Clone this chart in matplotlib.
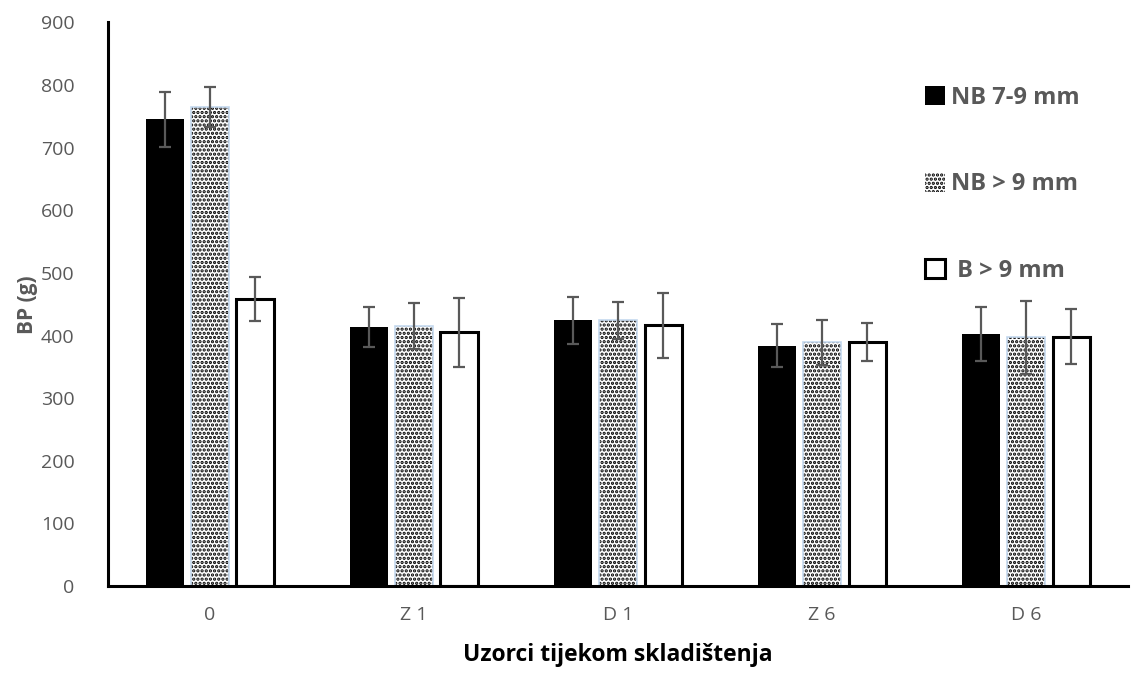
import matplotlib
matplotlib.use("Agg")
import matplotlib.pyplot as plt
import numpy as np

plt.rcParams['font.family'] = ['Open Sans', 'DejaVu Sans']
plt.rcParams['hatch.linewidth'] = 1.6

categories = ["0", "Z 1", "D 1", "Z 6", "D 6"]
series = ["NB 7-9 mm", "NB > 9 mm", " B > 9 mm"]
nb79 = [745, 413, 424, 384, 403]
nb79_err = [44, 32, 38, 34, 43]
nb9 = [765, 415, 424, 389, 397]
nb9_err = [32, 37, 29, 36, 58]
b9 = [458, 405, 416, 390, 398]
b9_err = [35, 55, 52, 30, 44]

gray = "#595959"
x = np.arange(len(categories))
w = 0.185
off = 0.222

fig = plt.figure(figsize=(11.31, 6.76), dpi=100)
ax = fig.add_axes([0.0955, 0.133, 0.902, 0.834])

err_kw = dict(ecolor=gray, elinewidth=1.6, capsize=4, capthick=1.6)
h1 = ax.bar(x - off, nb79, w, color="black", yerr=nb79_err, error_kw=err_kw,
            label=series[0], zorder=2)
h2 = ax.bar(x, nb9, w, color="white", edgecolor="black", hatch="....", linewidth=0,
            yerr=nb9_err, error_kw=err_kw, label=series[1], zorder=2)
ax.bar(x, nb9, w, fill=False, edgecolor="#c5d9ef", linewidth=1.2, zorder=2)
h3 = ax.bar(x + off, b9, w, color="white", edgecolor="black", linewidth=2.2,
            yerr=b9_err, error_kw=err_kw, label=series[2], zorder=2)

ax.set_xlim(-0.5, len(categories) - 0.5)
ax.set_ylim(0, 900)
ax.set_yticks(np.arange(0, 901, 100))
ax.set_xticks(x)
ax.set_xticklabels(categories)
ax.tick_params(axis="both", length=0, colors=gray, labelsize=14)
ax.tick_params(axis="y", pad=24)
ax.tick_params(axis="x", pad=14)

for s in ["top", "right"]:
    ax.spines[s].set_visible(False)
ax.spines["left"].set_linewidth(2.2)
ax.spines["bottom"].set_linewidth(2.2)

ax.set_ylabel("BP (g)", fontsize=15, fontweight="bold", color=gray, labelpad=2)
ax.set_xlabel("Uzorci tijekom skladištenja", fontsize=16.5, fontweight="bold",
              color="black", labelpad=14)

leg = ax.legend(handles=[h1, h2, h3], loc="upper left", bbox_to_anchor=(0.78, 0.925),
                frameon=False, fontsize=17, handlelength=0.85, handleheight=0.85,
                handletextpad=0.25, labelspacing=2.65)
for t in leg.get_texts():
    t.set_color(gray)
    t.set_fontweight("bold")

fig.savefig("out.png", dpi=100)
